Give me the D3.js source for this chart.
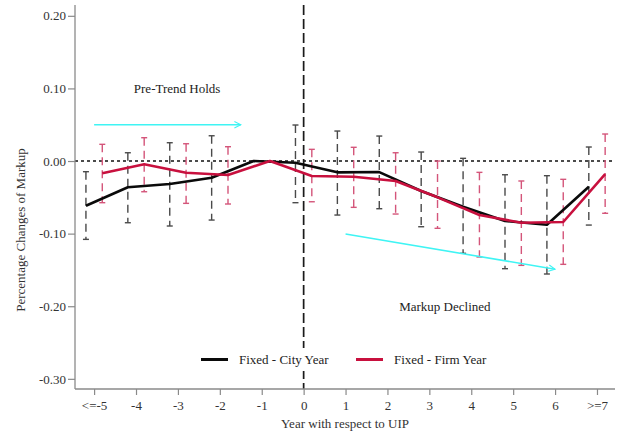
<!DOCTYPE html>
<html>
<head>
<meta charset="utf-8">
<script src="https://cdn.jsdelivr.net/npm/d3@7"></script>
<style>
  html, body { margin: 0; padding: 0; background: #fff; }
  svg { display: block; font-family: "Liberation Serif", "Times New Roman", serif; }
</style>
</head>
<body>
<svg id="chart" width="617" height="438"></svg>
<script>
// Event-time categories relative to UIP adoption
const yearLabels = ["<=-5", "-4", "-3", "-2", "-1", "0", "1", "2", "3", "4", "5", "6", ">=7"];

// Fixed effects: city-year
const cityEst   = [-0.0616, -0.0362, -0.0317, -0.0230, 0, -0.0023, -0.0156, -0.0152, -0.0413, -0.0629, -0.0826, -0.0877, -0.0354];
const cityHigh  = [-0.0147,  0.0114,  0.0252,  0.0348, null, 0.0496, 0.0413, 0.0344, 0.0124, 0.0037, -0.0189, -0.0202, 0.0193];
const cityLow   = [-0.1079, -0.0850, -0.0895, -0.0813, null, -0.0574, -0.0744, -0.0657, -0.0905, -0.1271, -0.1483, -0.1556, -0.0882];

// Fixed effects: firm-year
const firmEst   = [-0.0169, -0.0045, -0.0161, -0.0193, 0, -0.0207, -0.0216, -0.0275, -0.0500, -0.0744, -0.0850, -0.0840, -0.0179];
const firmHigh  = [0.0230, 0.0321, 0.0238, 0.0197, null, 0.0161, 0.0189, 0.0114, 0.0000, -0.0156, -0.0275, -0.0252, 0.0372];
const firmLow   = [-0.0574, -0.0423, -0.0583, -0.0592, null, -0.0561, -0.0638, -0.0730, -0.0927, -0.1322, -0.1437, -0.1423, -0.0720];

const yTicks = [0.20, 0.10, 0.00, -0.10, -0.20, -0.30];

const seriesNames = ["Fixed - City Year", "Fixed - Firm Year"];

const svg = d3.select("#chart");

const plotLeft = 75, plotRight = 615, plotTop = 5, plotBottom = 389;

const x = d3.scaleLinear().domain([-0.456, 12.43]).range([plotLeft, plotRight]);
const y = d3.scaleLinear().domain([0.2149, -0.314]).range([plotTop, plotBottom]);

const offset = 0.195; // horizontal shift of each series around its year

const series = [
  { name: seriesNames[0], est: cityEst, hi: cityHigh, lo: cityLow, dx: -offset,
    line: "#0a0a0a", bar: "#4a4a4a" },
  { name: seriesNames[1], est: firmEst, hi: firmHigh, lo: firmLow, dx: offset,
    line: "#c8103e", bar: "#d4557a" }
];

// zero reference line
svg.append("line")
  .attr("x1", plotLeft).attr("x2", plotRight)
  .attr("y1", y(0)).attr("y2", y(0))
  .attr("stroke", "#111").attr("stroke-width", 1.4)
  .attr("stroke-dasharray", "3,3");

// UIP adoption year
svg.append("line")
  .attr("x1", x(5)).attr("x2", x(5))
  .attr("y1", plotTop).attr("y2", plotBottom)
  .attr("stroke", "#1a1a1a").attr("stroke-width", 1.7)
  .attr("stroke-dasharray", "10,4");

// confidence intervals
series.forEach(s => {
  const g = svg.append("g");
  const pts = yearLabels.map((_, i) => ({ i, hi: s.hi[i], lo: s.lo[i] }))
    .filter(d => d.hi !== null);
  g.selectAll("line.v").data(pts).join("line")
    .attr("class", "v")
    .attr("x1", d => x(d.i + s.dx)).attr("x2", d => x(d.i + s.dx))
    .attr("y1", d => y(d.hi)).attr("y2", d => y(d.lo))
    .attr("stroke", s.bar).attr("stroke-width", 1.4)
    .attr("stroke-dasharray", "8,5");
  ["hi", "lo"].forEach(k => {
    g.selectAll("line.c" + k).data(pts).join("line")
      .attr("class", "c" + k)
      .attr("x1", d => x(d.i + s.dx) - 3).attr("x2", d => x(d.i + s.dx) + 3)
      .attr("y1", d => y(d[k])).attr("y2", d => y(d[k]))
      .attr("stroke", s.bar).attr("stroke-width", 1.4);
  });
});

// point estimates
series.forEach(s => {
  const line = d3.line()
    .x((d, i) => x(i + s.dx))
    .y(d => y(d));
  svg.append("path")
    .datum(s.est)
    .attr("d", line)
    .attr("fill", "none")
    .attr("stroke", s.line)
    .attr("stroke-width", 2.6)
    .attr("stroke-linejoin", "round");
});

// axes
const xAxis = d3.axisBottom(x)
  .tickValues(d3.range(yearLabels.length))
  .tickFormat(i => yearLabels[i])
  .tickSize(6).tickSizeOuter(0).tickPadding(6);
const gx = svg.append("g").attr("transform", `translate(0,${plotBottom})`).call(xAxis);
gx.select(".domain").attr("stroke", "#8a8a8a").attr("stroke-width", 1.3)
  .attr("d", `M${plotLeft},0H${plotRight}`);

const yAxis = d3.axisLeft(y)
  .tickValues(yTicks)
  .tickFormat(d => d.toFixed(2))
  .tickSize(7).tickSizeOuter(0).tickPadding(2);
const gy = svg.append("g").attr("transform", `translate(${plotLeft},0)`).call(yAxis);
gy.select(".domain").attr("stroke", "#8a8a8a").attr("stroke-width", 1.3)
  .attr("d", `M0,${plotTop}V${plotBottom}`);

[gx, gy].forEach(g => {
  g.selectAll(".tick line").attr("stroke", "#8a8a8a").attr("stroke-width", 1.2);
  g.selectAll(".tick text").attr("fill", "#333").style("font-size", "13px")
    .style("font-family", "'Liberation Serif', serif");
});

// axis titles
svg.append("text")
  .attr("x", 345).attr("y", 428)
  .attr("text-anchor", "middle")
  .attr("fill", "#333").style("font-size", "13px")
  .text("Year with respect to UIP");

svg.append("text")
  .attr("transform", "translate(25,230) rotate(-90)")
  .attr("text-anchor", "middle")
  .attr("fill", "#333").style("font-size", "13px")
  .text("Percentage Changes of Markup");

// annotations
const defs = svg.append("defs");
defs.append("marker")
  .attr("id", "arrow").attr("viewBox", "0 0 10 10")
  .attr("refX", 9).attr("refY", 5)
  .attr("markerWidth", 8).attr("markerHeight", 8)
  .attr("markerUnits", "userSpaceOnUse")
  .attr("orient", "auto")
  .append("path").attr("d", "M1,1L9,5L1,9")
  .attr("fill", "none").attr("stroke", "#3ff4f4").attr("stroke-width", 1.4);

svg.append("line")
  .attr("x1", x(0)).attr("y1", y(0.05))
  .attr("x2", x(3.5)).attr("y2", y(0.05))
  .attr("stroke", "#3ff4f4").attr("stroke-width", 1.6)
  .attr("marker-end", "url(#arrow)");

svg.append("line")
  .attr("x1", x(6)).attr("y1", y(-0.1005))
  .attr("x2", x(11)).attr("y2", y(-0.149))
  .attr("stroke", "#3ff4f4").attr("stroke-width", 1.6)
  .attr("marker-end", "url(#arrow)");

svg.append("text")
  .attr("x", x(1.98)).attr("y", y(0.10)).attr("dy", "0.35em")
  .attr("text-anchor", "middle").attr("fill", "#222").style("font-size", "13px")
  .text("Pre-Trend Holds");

svg.append("text")
  .attr("x", x(8.37)).attr("y", y(-0.20)).attr("dy", "0.35em")
  .attr("text-anchor", "middle").attr("fill", "#222").style("font-size", "13px")
  .text("Markup Declined");

// legend
const legend = svg.append("g");
legend.append("rect")
  .attr("x", 192).attr("y", 348).attr("width", 316).attr("height", 23)
  .attr("fill", "#fff");
const legendX = [201, 356];
series.forEach((s, k) => {
  legend.append("line")
    .attr("x1", legendX[k]).attr("x2", legendX[k] + 27)
    .attr("y1", 359.5).attr("y2", 359.5)
    .attr("stroke", s.line).attr("stroke-width", 3);
  legend.append("text")
    .attr("x", legendX[k] + 38).attr("y", 359.5).attr("dy", "0.35em")
    .attr("fill", "#222").style("font-size", "13px")
    .text(s.name);
});
</script>
</body>
</html>
